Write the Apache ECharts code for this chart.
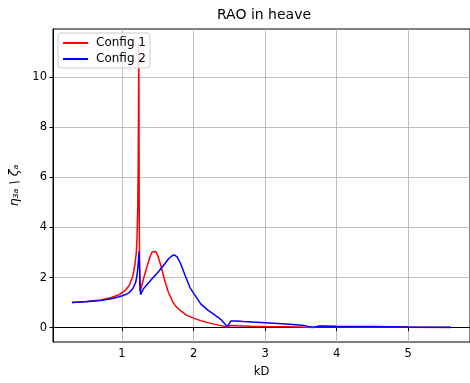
<!DOCTYPE html>
<html>
<head>
<meta charset="utf-8">
<script src="https://cdn.jsdelivr.net/npm/echarts@6/dist/echarts.min.js"></script>
<style>
  html, body { margin: 0; padding: 0; background: #fff; }
  #chart { width: 470px; height: 383px; }
</style>
</head>
<body>
<div id="chart"></div>
<script>
// Config 1 (red)
const kd1 = [0.3, 0.5, 0.7, 0.85, 0.95, 1.05, 1.1, 1.15, 1.18, 1.2, 1.21, 1.22, 1.226, 1.23, 1.234, 1.237, 1.24, 1.245, 1.25,
  1.27, 1.3, 1.35, 1.39, 1.42, 1.445, 1.47, 1.5, 1.55, 1.6, 1.65, 1.7, 1.75, 1.8, 1.9, 2.0, 2.1, 2.2, 2.3, 2.4, 2.47, 2.5,
  2.6, 2.8, 3.0, 3.3, 3.6, 3.68, 3.75, 4.0, 4.5, 5.0, 5.6];
const rao1 = [1.0, 1.04, 1.1, 1.2, 1.3, 1.5, 1.68, 2.05, 2.5, 3.0, 3.6, 4.8, 6.5, 8.5, 11.35, 9.0, 5.0, 2.5, 1.45,
  1.6, 1.95, 2.45, 2.82, 3.02, 3.08, 3.04, 2.88, 2.4, 1.85, 1.4, 1.08, 0.86, 0.72, 0.5, 0.38, 0.28, 0.2, 0.13, 0.07, 0.02, 0.08,
  0.07, 0.05, 0.04, 0.03, 0.01, 0.0, 0.04, 0.03, 0.02, 0.01, 0.0];

// Config 2 (blue)
const kd2 = [0.3, 0.5, 0.7, 0.85, 0.95, 1.05, 1.1, 1.15, 1.19, 1.21, 1.225, 1.238, 1.25, 1.26, 1.3, 1.35, 1.42, 1.5,
  1.58, 1.65, 1.7, 1.73, 1.77, 1.82, 1.88, 1.95, 2.0, 2.1, 2.2, 2.3, 2.38, 2.47, 2.52, 2.6, 2.7, 3.0, 3.3, 3.55,
  3.66, 3.75, 4.0, 4.5, 5.0, 5.6];
const rao2 = [1.0, 1.03, 1.08, 1.15, 1.22, 1.32, 1.4, 1.55, 1.8, 2.1, 2.5, 3.05, 2.0, 1.32, 1.55, 1.72, 1.95, 2.2,
  2.48, 2.75, 2.87, 2.9, 2.82, 2.55, 2.1, 1.6, 1.38, 0.95, 0.7, 0.5, 0.33, 0.04, 0.26, 0.26, 0.24, 0.19, 0.14, 0.08,
  0.02, 0.06, 0.05, 0.04, 0.02, 0.01];

const xTicks = [1, 2, 3, 4, 5];
const yTicks = [0, 2, 4, 6, 8, 10];

const pairs = (xs, ys) => xs.map((x, i) => [x, ys[i]]);

const chart = echarts.init(document.getElementById("chart"), null, { renderer: "canvas" });
const font = "DejaVu Sans";

chart.setOption({
  animation: false,
  title: {
    text: "RAO in heave",
    left: 264,
    top: 8,
    textAlign: "center",
    padding: 0,
    textStyle: { fontFamily: font, fontSize: 14, fontWeight: "normal", color: "#000" },
  },
  legend: {
    orient: "vertical",
    left: 58,
    top: 33,
    padding: [4, 4, 3, 5],
    itemGap: 4,
    itemWidth: 25,
    itemHeight: 2,
    icon: "rect",
    backgroundColor: "rgba(255,255,255,0.8)",
    borderColor: "#cccccc",
    borderWidth: 1,
    borderRadius: 3,
    textStyle: { fontFamily: font, fontSize: 12, color: "#000", padding: [0, 0, 0, 3] },
    data: ["Config 1", "Config 2"],
  },
  grid: { left: 53, top: 29, width: 425.6, height: 313.7, show: true, borderColor: "#000", borderWidth: 1 },
  xAxis: {
    type: "value",
    min: 0.035,
    max: 5.865,
    name: "kD",
    nameLocation: "middle",
    nameGap: 24,
    nameTextStyle: { fontFamily: font, fontSize: 11.5, color: "#000" },
    axisLine: { show: true, lineStyle: { color: "#000", width: 1 } },
    axisTick: { show: true, inside: false, length: 3.5, customValues: xTicks, lineStyle: { color: "#000" } },
    axisLabel: { customValues: xTicks, fontFamily: font, fontSize: 11.5, color: "#000", margin: 6 },
    splitLine: { show: true, lineStyle: { color: "#b0b0b0", width: 0.8 } },
  },
  yAxis: {
    type: "value",
    min: -0.574,
    max: 11.92,
    name: "η₃ₐ \\ ζₐ",
    nameLocation: "middle",
    nameRotate: 90,
    nameGap: 31,
    nameTextStyle: { fontFamily: font, fontSize: 12.5, fontStyle: "italic", color: "#000" },
    axisLine: { show: true, lineStyle: { color: "#000", width: 1 } },
    axisTick: { show: true, inside: false, length: 3.5, customValues: yTicks, lineStyle: { color: "#000" } },
    axisLabel: { customValues: yTicks, fontFamily: font, fontSize: 11.5, color: "#000", margin: 6 },
    splitLine: { show: true, lineStyle: { color: "#b0b0b0", width: 0.8 } },
  },
  series: [
    {
      name: "Config 1",
      type: "line",
      data: pairs(kd1, rao1),
      symbol: "none",
      clip: true,
      lineStyle: { color: "#ff0000", width: 1.5 },
      itemStyle: { color: "#ff0000" },
    },
    {
      name: "Config 2",
      type: "line",
      data: pairs(kd2, rao2),
      symbol: "none",
      clip: true,
      lineStyle: { color: "#0000ff", width: 1.5 },
      itemStyle: { color: "#0000ff" },
      z: 3,
    },
  ],
});
</script>
</body>
</html>
